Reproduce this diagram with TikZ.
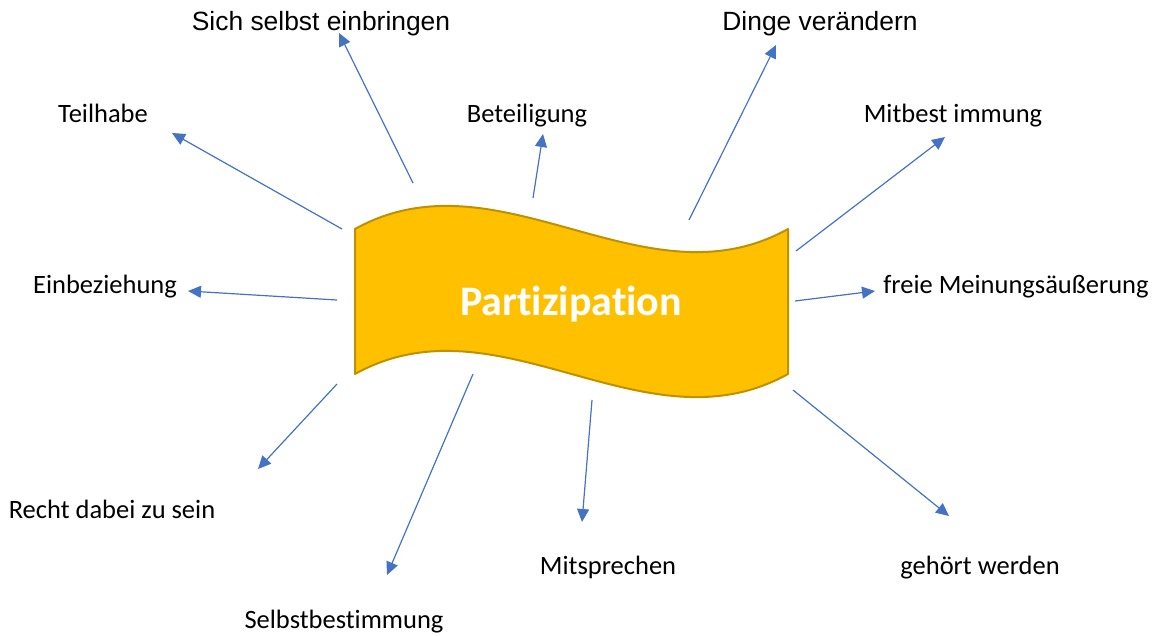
\documentclass[tikz,border=0pt]{standalone}
\usepackage{fontspec}
\setmainfont{Carlito}[Ligatures=NoCommon]
\newfontfamily\arialfont{Liberation Sans}
\usetikzlibrary{arrows.meta}
\definecolor{bannerfill}{HTML}{FFC000}
\definecolor{bannerline}{HTML}{BF9000}
\definecolor{arrowblue}{HTML}{4472C4}
\begin{document}
\begin{tikzpicture}[x=1pt,y=-1pt,
  lbl/.style={font=\fontsize{26.5}{30}\selectfont, inner sep=0pt, anchor=base},
  albl/.style={font=\arialfont\fontsize{26.4}{30}\selectfont, inner sep=0pt, anchor=base},
  conn/.style={draw=arrowblue, line width=1.2pt, -{Triangle[length=13pt,width=12pt]}},
  banner/.style={fill=bannerfill, draw=bannerline, line width=2pt, line join=round}]
\useasboundingbox (0,0) rectangle (1158,635);
% banner
\draw[banner] (355,229) .. controls (499,149) and (644,309) .. (788,229)
  -- (788,374) .. controls (644,454) and (499,294) .. (355,374) -- cycle;
\node[font=\bfseries\fontsize{42}{46}\selectfont, text=white, inner sep=0pt, anchor=base] (center) at (571,315) {Partizipation};
% labels
\node[albl] (sich) at (321,30) {Sich selbst einbringen};
\node[albl] (dinge) at (820,30) {Dinge verändern};
\node[lbl] (teil) at (103,122) {Teilhabe};
\node[lbl] (bet) at (527,122) {Beteiligung};
\node[lbl] (mitb) at (953,122) {Mitbest immung};
\node[lbl] (einb) at (105,293) {Einbeziehung};
\node[lbl] (freie) at (1016,293) {freie Meinungsäußerung};
\node[lbl] (recht) at (112,518) {Recht dabei zu sein};
\node[lbl] (mits) at (608,574) {Mitsprechen};
\node[lbl] (geh) at (980,574) {gehört werden};
\node[lbl] (selbst) at (344,628) {Selbstbestimmung};
% connector ends
\coordinate (s1) at (342,229); \coordinate (t1) at (172,133);
\coordinate (s2) at (413,183); \coordinate (t2) at (339,33);
\coordinate (s3) at (533,198); \coordinate (t3) at (543,134);
\coordinate (s4) at (689,220); \coordinate (t4) at (776,45);
\coordinate (s5) at (796,251); \coordinate (t5) at (945,137);
\coordinate (s6) at (795,301); \coordinate (t6) at (875,291);
\coordinate (s7) at (793,390); \coordinate (t7) at (949,516);
\coordinate (s8) at (592,400); \coordinate (t8) at (582,522);
\coordinate (s9) at (473,374); \coordinate (t9) at (387,575);
\coordinate (s10) at (337,384); \coordinate (t10) at (258,469);
\coordinate (s11) at (337,300); \coordinate (t11) at (188,291);
\foreach \i in {1,...,11} { \draw[conn] (s\i) -- (t\i); }
\end{tikzpicture}
\end{document}
